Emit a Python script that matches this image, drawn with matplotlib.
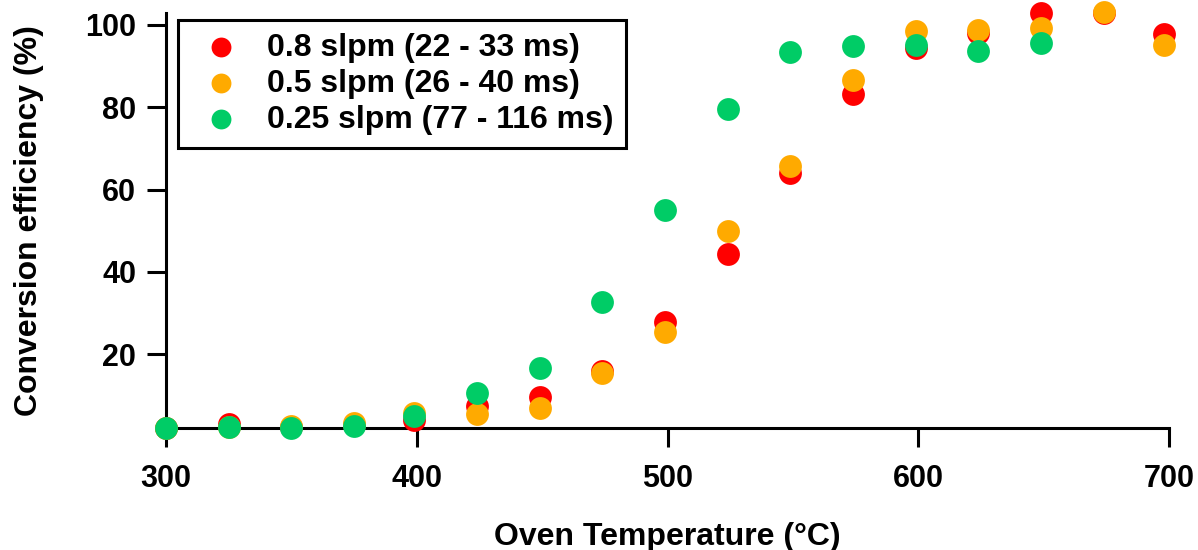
import matplotlib
matplotlib.use("Agg")
import matplotlib.pyplot as plt

plt.rcParams['font.family'] = ['Liberation Sans', 'DejaVu Sans']
plt.rcParams['font.weight'] = 'bold'

temps = [300, 325, 350, 375, 399, 424, 449, 474, 499, 524, 549, 574, 599, 624, 649, 674, 698]
red_vals = [2.0, 3.0, 2.2, 2.7, 4.1, 7.3, 9.7, 15.8, 27.9, 44.4, 64.1, 83.2, 94.3, 98.0, 103.0, 103.0, 97.8]
orange_vals = [2.0, 2.3, 2.6, 3.2, 5.8, 5.5, 6.9, 15.4, 25.4, 50.0, 65.7, 86.6, 98.6, 98.9, 99.3, 103.1, 95.1]
green_temps = [300, 325, 350, 375, 399, 424, 449, 474, 499, 524, 549, 574, 599, 624, 649]
green_vals = [2.0, 2.2, 2.1, 2.6, 4.9, 10.5, 16.6, 32.6, 55.1, 79.6, 93.4, 94.8, 95.2, 93.7, 95.6]

labels = ["0.8 slpm (22 - 33 ms)", "0.5 slpm (26 - 40 ms)", "0.25 slpm (77 - 116 ms)"]
colors = ["#FF0000", "#FFAA00", "#00CC66"]
xticks = [300, 400, 500, 600, 700]
yticks = [20, 40, 60, 80, 100]

fig = plt.figure(figsize=(11.98, 5.5), dpi=100)
ax = fig.add_axes([0.1386, 0.2213, 0.8372, 0.7557])

ms = 270
ax.scatter(temps, red_vals, s=ms, color=colors[0], label=labels[0], clip_on=False, zorder=3, linewidths=0)
ax.scatter(temps, orange_vals, s=ms, color=colors[1], label=labels[1], clip_on=False, zorder=4, linewidths=0)
ax.scatter(green_temps, green_vals, s=ms, color=colors[2], label=labels[2], clip_on=False, zorder=5, linewidths=0)

ax.set_xlim(300, 700)
ax.set_ylim(2, 103)
ax.set_xticks(xticks)
ax.set_yticks(yticks)
for s in ['top', 'right']:
    ax.spines[s].set_visible(False)
for s in ['left', 'bottom']:
    ax.spines[s].set_linewidth(2.2)
ax.tick_params(axis='both', direction='out', length=13.5, width=2.2, labelsize=22)
ax.tick_params(axis='x', pad=12.5)
ax.tick_params(axis='y', pad=8)
for lab in ax.get_xticklabels() + ax.get_yticklabels():
    lab.set_fontweight('bold')

ax.set_xlabel("Oven Temperature (°C)", fontsize=23, fontweight='bold', labelpad=20)
ax.set_ylabel("Conversion efficiency (%)", fontsize=23, fontweight='bold', labelpad=30)

leg = ax.legend(loc='upper left', bbox_to_anchor=(0.012, 0.9824), borderaxespad=0,
                fontsize=23, frameon=True, fancybox=False, edgecolor='black', framealpha=1,
                markerscale=0.87, handletextpad=0.49, borderpad=0.4,
                labelspacing=0.19, handlelength=1.9)
leg.get_frame().set_linewidth(2.2)
for t in leg.get_texts():
    t.set_fontweight('bold')

fig.savefig("out.png", dpi=100)
